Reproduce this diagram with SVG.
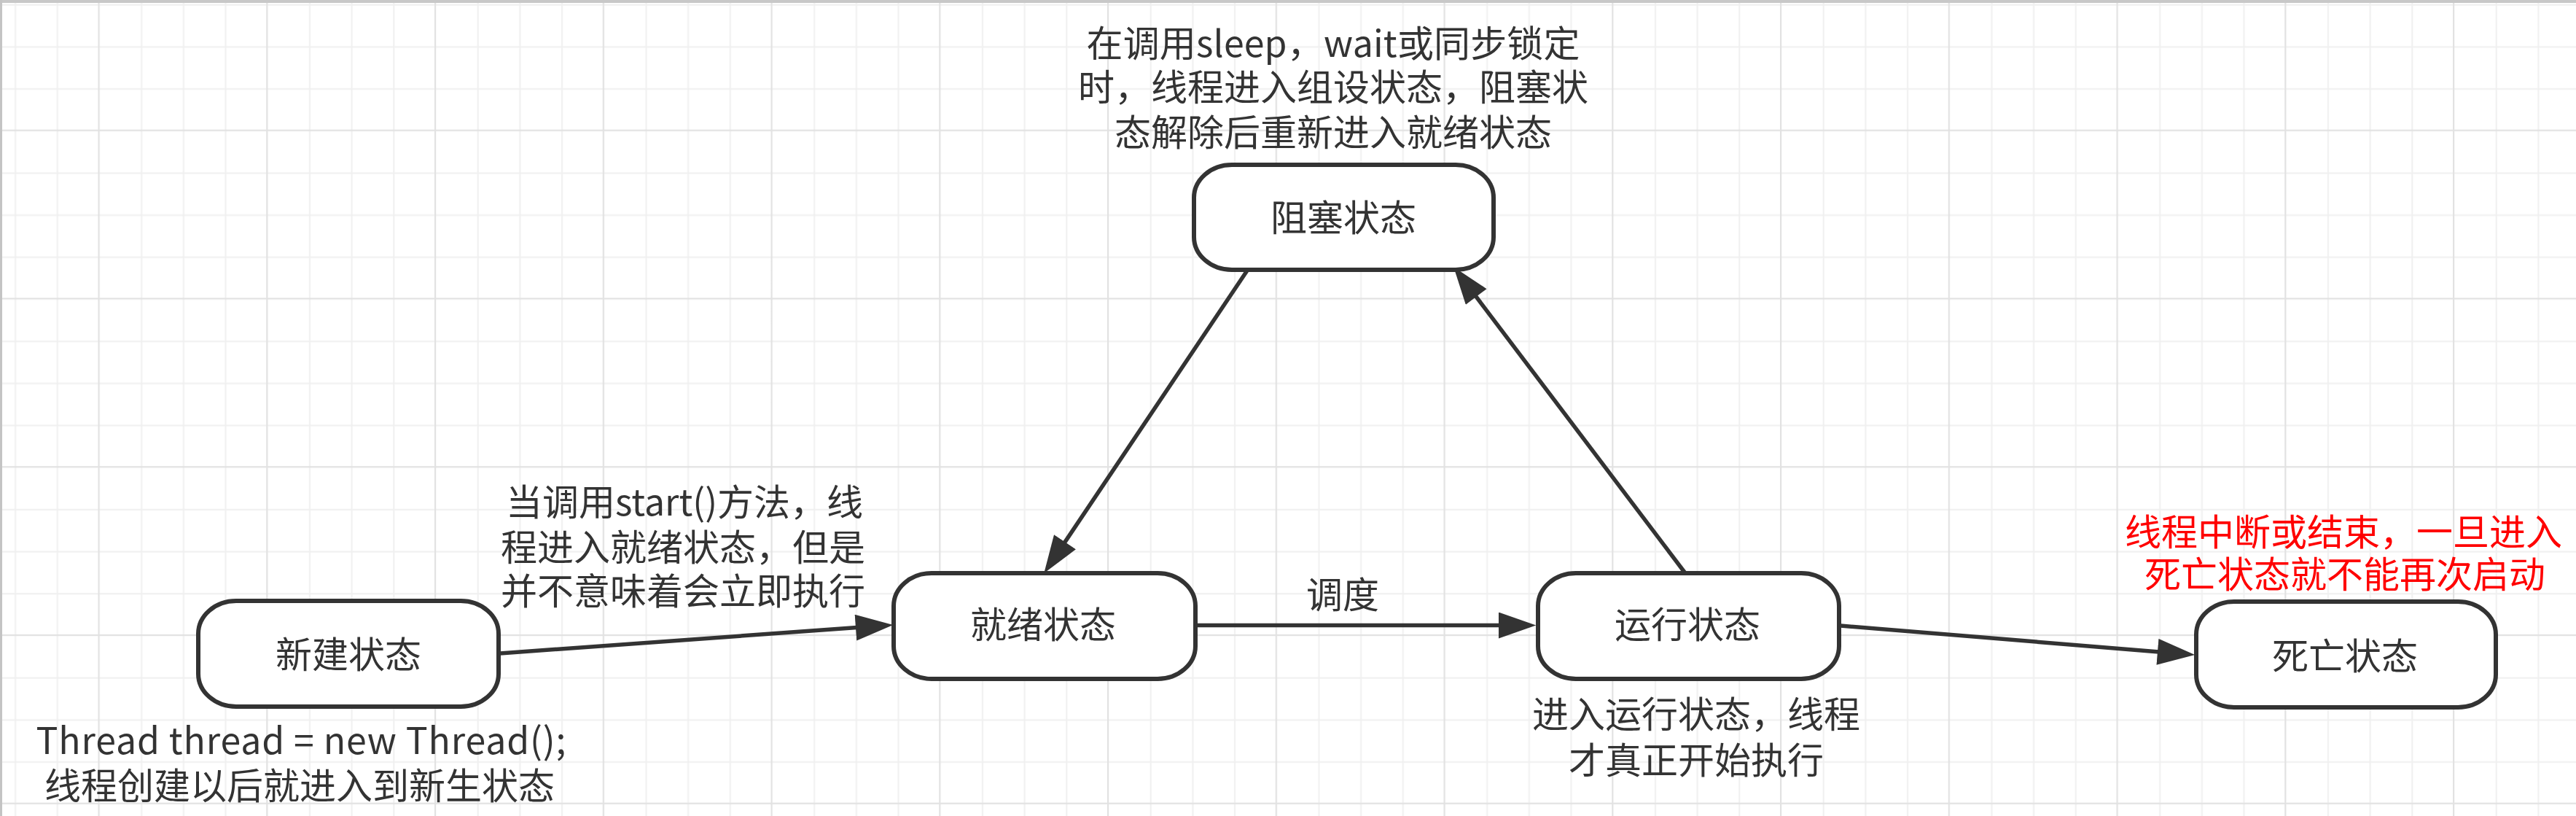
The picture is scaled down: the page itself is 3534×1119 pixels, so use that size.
<svg xmlns="http://www.w3.org/2000/svg" width="3534" height="1119" viewBox="0 0 3534 1119">
<style>
.node rect{fill:#ffffff;stroke:#333333;stroke-width:6}
.lbl{font-family:"Noto Sans CJK SC","Noto Sans",sans-serif;font-size:50px;fill:#333333;text-anchor:middle}
.red{fill:#ff0000}
.edge{stroke:#333333;stroke-width:5.5;fill:none;marker-end:url(#arrow)}
</style>
<defs>
<pattern id="grid" patternUnits="userSpaceOnUse" x="134.5" y="177.7" width="230.75" height="230.75">
<rect x="0" y="0" width="230.75" height="230.75" fill="#ffffff"/>
<rect x="58.69" y="0" width="2" height="230.75" fill="#f0f0f0"/>
<rect x="116.38" y="0" width="2" height="230.75" fill="#f0f0f0"/>
<rect x="174.06" y="0" width="2" height="230.75" fill="#f0f0f0"/>
<rect x="0" y="58.69" width="230.75" height="2" fill="#f0f0f0"/>
<rect x="0" y="116.38" width="230.75" height="2" fill="#f0f0f0"/>
<rect x="0" y="174.06" width="230.75" height="2" fill="#f0f0f0"/>
<rect x="0" y="0" width="2.2" height="230.75" fill="#e2e2e2"/>
<rect x="0" y="0" width="230.75" height="2.2" fill="#e2e2e2"/>
</pattern>
<marker id="arrow" markerUnits="userSpaceOnUse" markerWidth="52" markerHeight="36" refX="5" refY="17.5" orient="auto" viewBox="0 0 50 35">
<path d="M0,0 L50,17.5 L0,35 Z" fill="#333333"/>
</marker>
</defs>
<rect x="0" y="0" width="3534" height="1119" fill="url(#grid)"/>
<rect x="0" y="0" width="3534" height="4" fill="#c8c8c8"/>
<rect x="0" y="0" width="3" height="1119" fill="#c4c4c4"/>

<g id="connectors">
<path class="edge" d="M686,896 L1179.1,860.3"/>
<path class="edge" d="M1711,371 L1458.1,747.6"/>
<path class="edge" d="M2312,786 L2022.1,402.9"/>
<path class="edge" d="M1640,857.5 L2061,857.5"/>
<path class="edge" d="M2525,858 L2965.1,894.3"/>
<text class="lbl" x="1842" y="834">调度</text>
</g>

<g id="node-new" class="node">
<rect x="272" y="824" width="412" height="145" rx="52" ry="45"/>
<text class="lbl" x="478" y="916">新建状态</text>
</g>
<g id="node-ready" class="node">
<rect x="1226" y="786" width="414" height="145" rx="52" ry="45"/>
<text class="lbl" x="1431" y="875">就绪状态</text>
</g>
<g id="node-running" class="node">
<rect x="2110" y="786" width="413" height="145" rx="52" ry="45"/>
<text class="lbl" x="2315" y="875">运行状态</text>
</g>
<g id="node-blocked" class="node">
<rect x="1638" y="226" width="411" height="144" rx="52" ry="45"/>
<text class="lbl" x="1843" y="317">阻塞状态</text>
</g>
<g id="node-dead" class="node">
<rect x="3013" y="825" width="411" height="145" rx="52" ry="45"/>
<text class="lbl" x="3217" y="918">死亡状态</text>
</g>

<g id="note-blocked">
<text class="lbl"><tspan x="1829" y="78" textLength="677">在调用sleep，wait或同步锁定</tspan><tspan x="1829" y="138">时，线程进入组设状态，阻塞状</tspan><tspan x="1829" y="200">态解除后重新进入就绪状态</tspan></text>
</g>
<g id="note-start">
<text class="lbl"><tspan x="939" y="707" textLength="490">当调用start()方法，线</tspan><tspan x="937" y="769">程进入就绪状态，但是</tspan><tspan x="937" y="829">并不意味着会立即执行</tspan></text>
</g>
<g id="note-new">
<text class="lbl"><tspan x="413" y="1034" textLength="727">Thread thread = new Thread();</tspan><tspan x="411" y="1096">线程创建以后就进入到新生状态</tspan></text>
</g>
<g id="note-running">
<text class="lbl"><tspan x="2327" y="998">进入运行状态，线程</tspan><tspan x="2327" y="1061">才真正开始执行</tspan></text>
</g>
<g id="note-dead">
<text class="lbl red"><tspan x="3215" y="748">线程中断或结束，一旦进入</tspan><tspan x="3217" y="806">死亡状态就不能再次启动</tspan></text>
</g>
</svg>
